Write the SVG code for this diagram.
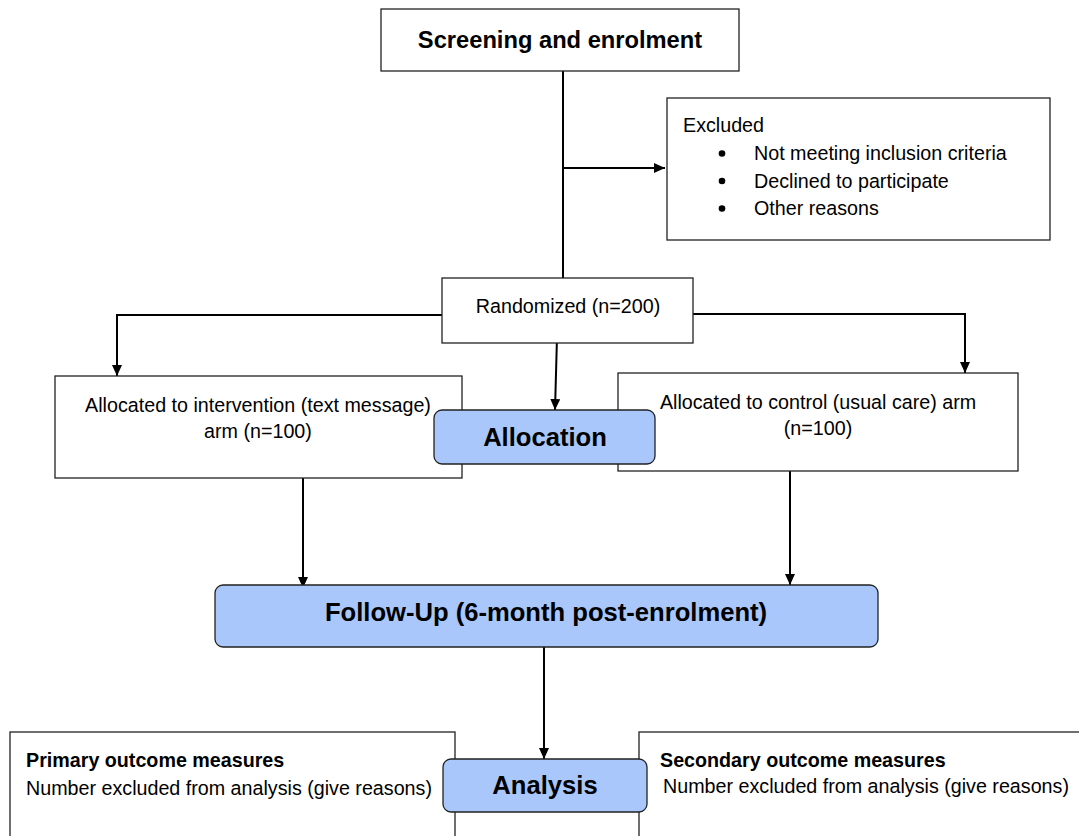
<svg xmlns="http://www.w3.org/2000/svg" width="1079" height="836" viewBox="0 0 1079 836">
<defs>
<marker id="arr" markerWidth="11" markerHeight="10" refX="10" refY="5" orient="auto" markerUnits="userSpaceOnUse" viewBox="0 0 10 10" preserveAspectRatio="none">
<path d="M0,0 L10,5 L0,10 z" fill="#000"/>
</marker>
<style>
.box{fill:#fff;stroke:#222;stroke-width:1.3}
.blue{fill:#a9c7fa;stroke:#222;stroke-width:1.3}
.t{font-family:"Liberation Sans",Arial,sans-serif;fill:#000;font-size:19.7px}
.b{font-weight:bold}
.h{font-weight:bold;font-size:25.6px}
.c{stroke:#000;stroke-width:2;fill:none}
</style>
</defs>
<rect width="1079" height="836" fill="#fff"/>
<g id="connectors">
<path class="c" d="M563,71 V278"/>
<path class="c" d="M563,168 H665" marker-end="url(#arr)"/>
<path class="c" d="M442,315 H117 V376" marker-end="url(#arr)"/>
<path class="c" d="M693,314 H965 V373" marker-end="url(#arr)"/>
<path class="c" d="M557,337 L555,410" marker-end="url(#arr)"/>
<path class="c" d="M303,478 V588" marker-end="url(#arr)"/>
<path class="c" d="M790,471 V585" marker-end="url(#arr)"/>
<path class="c" d="M544,647 V759" marker-end="url(#arr)"/>
</g>
<g id="screening">
<rect class="box" x="381" y="9" width="358" height="62"/>
<text class="t b" x="560" y="48" style="font-size:23.7px" text-anchor="middle">Screening and enrolment</text>
</g>
<g id="excluded">
<rect class="box" x="667" y="98" width="383" height="142"/>
<text class="t" x="683" y="132">Excluded</text>
<circle cx="722" cy="153.5" r="3.3" fill="#000"/>
<circle cx="722" cy="181" r="3.3" fill="#000"/>
<circle cx="722" cy="208.5" r="3.3" fill="#000"/>
<text class="t" x="754" y="160">Not meeting inclusion criteria</text>
<text class="t" x="754" y="188">Declined to participate</text>
<text class="t" x="754" y="215">Other reasons</text>
</g>
<g id="randomized">
<rect class="box" x="442" y="278" width="251" height="65"/>
<text class="t" x="568" y="313" text-anchor="middle">Randomized (n=200)</text>
</g>
<g id="intervention">
<rect class="box" x="55" y="376" width="407" height="102"/>
<text class="t" x="258" y="412" text-anchor="middle">Allocated to intervention (text message)</text>
<text class="t" x="258" y="438" text-anchor="middle">arm (n=100)</text>
</g>
<g id="control">
<rect class="box" x="618" y="373" width="400" height="98"/>
<text class="t" x="818" y="409" text-anchor="middle">Allocated to control (usual care) arm</text>
<text class="t" x="818" y="435" text-anchor="middle">(n=100)</text>
</g>
<g id="allocation">
<rect class="blue" x="434" y="410" width="221" height="54" rx="8"/>
<text class="t h" x="545" y="446" text-anchor="middle">Allocation</text>
</g>
<g id="followup">
<rect class="blue" x="215" y="585" width="663" height="62" rx="8"/>
<text class="t h" x="546" y="621" text-anchor="middle">Follow-Up (6-month post-enrolment)</text>
</g>
<g id="primary">
<rect class="box" x="10" y="732" width="445" height="120"/>
<text class="t b" x="26" y="767">Primary outcome measures</text>
<text class="t" x="26" y="795">Number excluded from analysis (give reasons)</text>
</g>
<g id="secondary">
<rect class="box" x="639" y="732" width="460" height="120"/>
<text class="t b" x="660" y="767">Secondary outcome measures</text>
<text class="t" x="663" y="793">Number excluded from analysis (give reasons)</text>
</g>
<g id="analysis">
<rect class="blue" x="443" y="759" width="204" height="53" rx="8"/>
<text class="t h" x="545" y="794" text-anchor="middle">Analysis</text>
</g>
</svg>
